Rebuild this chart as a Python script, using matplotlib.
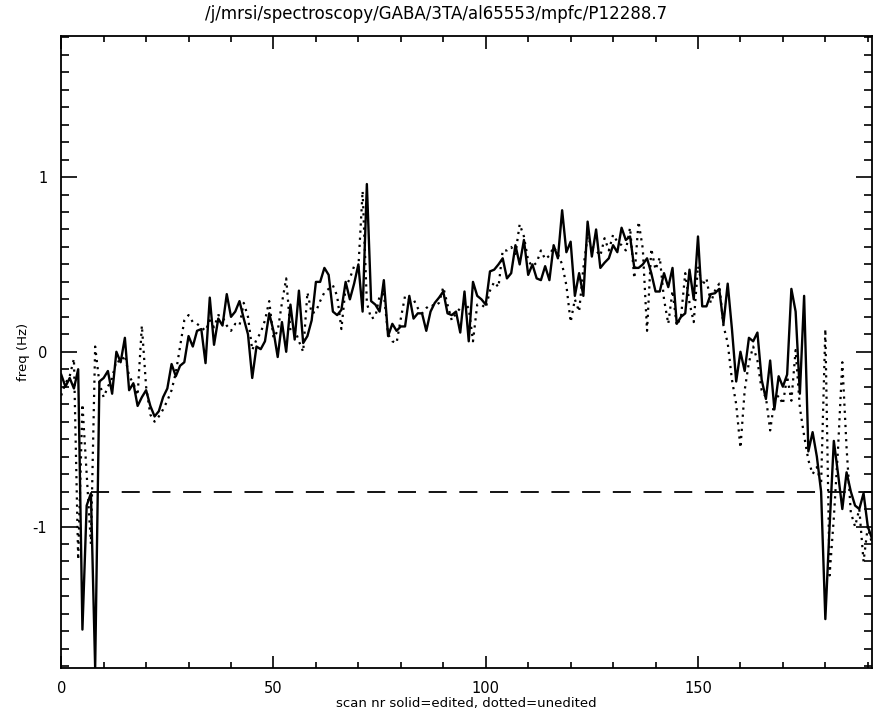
import numpy as np
import matplotlib.pyplot as plt
from matplotlib.ticker import MultipleLocator

plt.rcParams['axes.unicode_minus'] = False

# frequency drift per scan (Hz)
scan = np.arange(192)

edited = [
    -0.13, -0.20, -0.15, -0.21, -0.10, -1.59, -0.88, -0.81, -1.81, -0.17,
    -0.15, -0.11, -0.24, 0.00, -0.06, 0.08, -0.22, -0.18, -0.31, -0.26,
    -0.22, -0.31, -0.37, -0.34, -0.26, -0.21, -0.07, -0.14, -0.08, -0.06,
    0.09, 0.03, 0.12, 0.13, -0.065, 0.31, 0.04, 0.19, 0.15, 0.33,
    0.20, 0.23, 0.29, 0.19, 0.10, -0.15, 0.03, 0.015, 0.06, 0.22,
    0.12, -0.03, 0.17, 0.00, 0.27, 0.07, 0.35, 0.05, 0.09, 0.18,
    0.40, 0.40, 0.48, 0.44, 0.23, 0.21, 0.24, 0.40, 0.30, 0.39,
    0.50, 0.23, 0.96, 0.29, 0.27, 0.23, 0.41, 0.09, 0.16, 0.12,
    0.145, 0.145, 0.32, 0.19, 0.22, 0.22, 0.12, 0.23, 0.28, 0.31,
    0.345, 0.22, 0.21, 0.23, 0.11, 0.345, 0.06, 0.40, 0.32, 0.30,
    0.27, 0.46, 0.47, 0.50, 0.535, 0.42, 0.45, 0.61, 0.50, 0.64,
    0.44, 0.50, 0.42, 0.41, 0.49, 0.41, 0.61, 0.535, 0.81, 0.57,
    0.63, 0.32, 0.45, 0.32, 0.745, 0.545, 0.70, 0.48, 0.51, 0.535,
    0.61, 0.57, 0.71, 0.64, 0.66, 0.48, 0.48, 0.50, 0.535, 0.45,
    0.345, 0.345, 0.45, 0.37, 0.48, 0.16, 0.20, 0.22, 0.47, 0.30,
    0.66, 0.26, 0.26, 0.33, 0.335, 0.36, 0.16, 0.39, 0.13, -0.17,
    0.00, -0.11, 0.08, 0.06, 0.11, -0.16, -0.27, -0.05, -0.33, -0.14,
    -0.20, -0.13, 0.36, 0.23, -0.24, 0.32, -0.57, -0.46, -0.60, -0.80,
    -1.53, -1.00, -0.51, -0.70, -0.90, -0.69, -0.80, -0.88, -0.90, -0.81,
    -1.00, -1.07,
]

unedited = [
    -0.25, -0.18, -0.14, -0.04, -1.19, -0.30, -0.70, -1.10, 0.03, -0.18,
    -0.26, -0.20, -0.15, -0.05, -0.06, -0.02, -0.14, -0.18, -0.25, 0.15,
    -0.20, -0.36, -0.40, -0.37, -0.33, -0.28, -0.22, -0.12, 0.03, 0.18,
    0.21, 0.17, 0.16, 0.14, 0.12, 0.18, 0.14, 0.21, 0.20, 0.15,
    0.12, 0.16, 0.15, 0.28, 0.20, 0.01, 0.07, 0.11, 0.18, 0.29,
    0.08, 0.12, 0.28, 0.42, 0.12, 0.13, 0.06, 0.00, 0.34, 0.22,
    0.23, 0.29, 0.34, 0.36, 0.38, 0.32, 0.13, 0.37, 0.42, 0.49,
    0.48, 0.92, 0.28, 0.19, 0.20, 0.32, 0.33, 0.10, 0.06, 0.05,
    0.19, 0.32, 0.30, 0.30, 0.25, 0.22, 0.25, 0.27, 0.26, 0.28,
    0.37, 0.27, 0.18, 0.22, 0.25, 0.28, 0.25, 0.06, 0.27, 0.27,
    0.25, 0.35, 0.40, 0.37, 0.58, 0.58, 0.60, 0.56, 0.73, 0.66,
    0.52, 0.49, 0.51, 0.58, 0.53, 0.55, 0.60, 0.56, 0.50, 0.38,
    0.17, 0.30, 0.23, 0.48, 0.66, 0.60, 0.58, 0.55, 0.65, 0.58,
    0.67, 0.63, 0.61, 0.58, 0.71, 0.42, 0.745, 0.59, 0.12, 0.59,
    0.47, 0.54, 0.30, 0.16, 0.35, 0.15, 0.20, 0.45, 0.28, 0.17,
    0.49, 0.38, 0.42, 0.28, 0.35, 0.39, 0.15, 0.05, -0.16, -0.30,
    -0.55, -0.22, -0.06, 0.03, -0.05, -0.22, -0.26, -0.45, -0.28, -0.25,
    -0.30, -0.14, -0.28, 0.01, -0.32, -0.48, -0.62, -0.70, -0.66, -0.76,
    0.13, -1.28, -0.95, -0.55, -0.06, -0.55, -0.92, -1.00, -0.90, -1.20,
    -1.00, -1.10,
]

threshold = -0.8
thr_start = 7

title = '/j/mrsi/spectroscopy/GABA/3TA/al65553/mpfc/P12288.7'
xlabel = 'scan nr solid=edited, dotted=unedited'
ylabel = 'freq (Hz)'

fig = plt.figure(figsize=(8.73, 7.15), dpi=100)
ax = fig.add_axes([0.0701, 0.0657, 0.9288, 0.8846])

ax.plot(scan, unedited, color='black', lw=1.6, linestyle=(0, (1, 2.2)))
ax.plot(scan, edited, color='black', lw=1.7)
ax.plot([thr_start, scan[-1]], [threshold, threshold], color='black',
        lw=1.3, linestyle=(0, (10, 7)))

ax.set_xlim(0, 191)
ax.set_ylim(-1.81, 1.81)

ax.xaxis.set_major_locator(MultipleLocator(50))
ax.xaxis.set_minor_locator(MultipleLocator(10))
ax.yaxis.set_major_locator(MultipleLocator(1))
ax.yaxis.set_minor_locator(MultipleLocator(0.1))

ax.tick_params(axis='both', which='both', direction='in', top=True, right=True,
               color='black', width=1.2, labelsize=10.5)
ax.tick_params(axis='x', which='major', length=9, pad=9)
ax.tick_params(axis='x', which='minor', length=4.6)
ax.tick_params(axis='y', which='major', length=11.5, pad=10)
ax.tick_params(axis='y', which='minor', length=5.8)

for sp in ax.spines.values():
    sp.set_linewidth(1.3)

ax.set_xlabel(xlabel, fontsize=9.5, labelpad=1)
ax.set_ylabel(ylabel, fontsize=9.5, labelpad=2)
fig.text(0.5, 1 - 14 / 715, title, ha='center', va='center', fontsize=12)

fig.savefig('out.png', dpi=100)
